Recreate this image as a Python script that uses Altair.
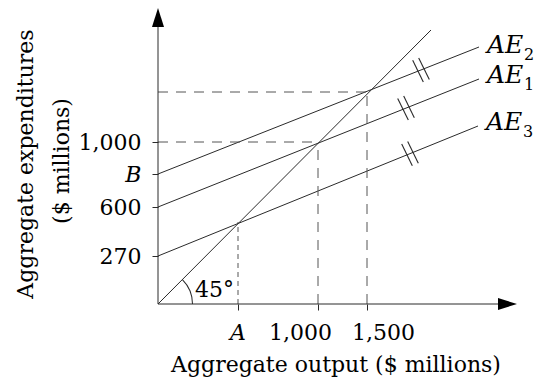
import math
import altair as alt
import pandas as pd

FONT = "DejaVu Serif"
INK = "#2a2a2a"
DASH = "#555555"

# ---- axis ticks (positions as drawn in the diagram, text as printed) ----
x_tick_pos = [80, 160, 209]
x_tick_labels = ["A", "1,000", "1,500"]
y_tick_pos = [48, 97, 130, 162]
y_tick_labels = ["270", "600", "B", "1,000"]

# ---- straight lines: 45-degree line and the three AE lines ----
line_names = ["45°", "AE2", "AE1", "AE3"]
line_x0 = [0, 0, 0, 0]
line_y0 = [0, 130, 97, 48]
line_x1 = [273, 321, 321, 320]
line_y1 = [274, 257, 225, 178]

# ---- equilibrium guide lines (dashed) ----
guide_x = [80, 160, 209]
guide_y = [82, 162, 212]
guide_horizontal = [False, True, True]

# ---- parallel hash marks on the AE lines ----
hash_lines = ["AE2", "AE1", "AE3"]
hash_x = [263, 248, 252]

# ---- AE labels ----
ae_lines = ["AE2", "AE1", "AE3"]
ae_sub = ["2", "1", "3"]

# ---------------------------------------------------------------------
X_DOM = [0, 360]
Y_DOM = [0, 300]

lines_df = pd.DataFrame({"name": line_names, "x": line_x0, "y": line_y0,
                         "x2": line_x1, "y2": line_y1})

solid_g, fine_g = [], []
for gx, gy, gh in zip(guide_x, guide_y, guide_horizontal):
    tgt = solid_g if gh else fine_g
    tgt.append({"x": gx, "y": 0, "x2": gx, "y2": gy})
    if gh:
        tgt.append({"x": 0, "y": gy, "x2": gx, "y2": gy})
guides_df = pd.DataFrame(solid_g)
fine_df = pd.DataFrame(fine_g)

hash_rows = []
for nm, hx in zip(hash_lines, hash_x):
    i = line_names.index(nm)
    m = (line_y1[i] - line_y0[i]) / (line_x1[i] - line_x0[i])
    cy = line_y0[i] + m * (hx - line_x0[i])
    for s in (-1, 1):
        cx_, cy_ = hx + 3 * s, cy + 3 * s * m
        hash_rows.append({"x": cx_ - 5.3, "y": cy_ + 10.8,
                          "x2": cx_ + 5.3, "y2": cy_ - 10.8})
hash_df = pd.DataFrame(hash_rows)

axes_df = pd.DataFrame({"x": [0, 0], "y": [0, 0], "x2": [0, 350], "y2": [290, 0]})


def y_label_expr():
    expr = "''"
    for p, l in reversed(list(zip(y_tick_pos, y_tick_labels))):
        expr = f"datum.value == {p} ? '{l}' : ({expr})"
    return expr


xs = alt.Scale(domain=X_DOM, nice=False, zero=False)
ys = alt.Scale(domain=Y_DOM, nice=False, zero=False)

x_axis = alt.Axis(values=x_tick_pos, labels=False, ticks=True, tickSize=6,
                  tickColor=INK, tickWidth=1, domain=False, grid=False, title=None)
y_axis = alt.Axis(values=y_tick_pos, labelExpr=y_label_expr(), labelFont=FONT,
                  labelFontSize=22, labelColor="black", labelPadding=11,
                  labelBaseline="middle", labelAlign="right", labelOverlap=False,
                  labelFontStyle={"condition": {"test": "datum.value == 130", "value": "italic"},
                                  "value": "normal"},
                  tickSize=6, tickColor=INK, tickWidth=1, domain=False, grid=False, title=None)


def XE(field="x"):
    return alt.X(f"{field}:Q", scale=xs, axis=x_axis)


def YE(field="y"):
    return alt.Y(f"{field}:Q", scale=ys, axis=y_axis)


def seg(df, **kw):
    return alt.Chart(df).mark_rule(**kw).encode(
        x=XE(), y=YE(), x2="x2:Q", y2="y2:Q")


main = seg(lines_df, color=INK, strokeWidth=1)
guides = seg(guides_df, color=DASH, strokeWidth=1, strokeDash=[10, 8])
fine = seg(fine_df, color=DASH, strokeWidth=1, strokeDash=[5, 4])
hashes = seg(hash_df, color=INK, strokeWidth=1.1)
axes_lines = seg(axes_df, color=INK, strokeWidth=1)

up_df = pd.DataFrame({"x": [0], "y": [296]})
right_df = pd.DataFrame({"x": [359], "y": [0]})


def arrow(df, path):
    return alt.Chart(df).mark_point(shape=path, filled=True, size=400, color="black",
                                    opacity=1, strokeWidth=0).encode(x=XE(), y=YE())


up_arrow = arrow(up_df, "M0,0 L0.6,1.9 L-0.6,1.9 Z")
right_arrow = arrow(right_df, "M0,0 L-1.9,-0.6 L-1.9,0.6 Z")

arc_df = pd.DataFrame({"x": [0], "y": [0]})
angle_arc = alt.Chart(arc_df).mark_arc(theta=math.pi / 4, theta2=math.pi / 2,
                                       radius=35, radius2=34, color=INK).encode(
    x=XE(), y=YE())

one = pd.DataFrame({"k": [0]})
angle_text = alt.Chart(one).mark_text(text="45°", font=FONT, fontSize=22, align="left",
                                      baseline="alphabetic", color="black").encode(
    x=alt.value(37), y=alt.value(293))

# x tick labels
x_lab_layers = []
x_lab_style = {"A": ("center", 0, "italic"), "1,000": ("right", 14, "normal"),
               "1,500": ("left", -15, "normal")}
for p, l in zip(x_tick_pos, x_tick_labels):
    al, dx, st = x_lab_style[l]
    x_lab_layers.append(
        alt.Chart(pd.DataFrame({"x": [p]})).mark_text(
            text=l, font=FONT, fontSize=22, fontStyle=st, align=al, dx=dx,
            baseline="alphabetic", color="black").encode(x=XE(), y=alt.value(336)))

# AE labels
ae_layers = []
ae_dy = {"AE2": 6, "AE1": 4, "AE3": 4}
for nm, sub in zip(ae_lines, ae_sub):
    i = line_names.index(nm)
    d = pd.DataFrame({"x": [line_x1[i]], "y": [line_y1[i]]})
    ae_layers.append(alt.Chart(d).mark_text(
        text="AE", font=FONT, fontSize=25, fontStyle="italic", align="left",
        baseline="alphabetic", dx=8, dy=ae_dy[nm], color="black").encode(x=XE(), y=YE()))
    ae_layers.append(alt.Chart(d).mark_text(
        text=sub, font=FONT, fontSize=16, align="left",
        baseline="alphabetic", dx=45, dy=ae_dy[nm] + 7, color="black").encode(x=XE(), y=YE()))

# axis titles
x_title = alt.Chart(one).mark_text(text="Aggregate output ($ millions)", font=FONT,
                                   fontSize=22, align="center", baseline="alphabetic",
                                   color="black").encode(x=alt.value(178), y=alt.value(368))
y_title1 = alt.Chart(one).mark_text(text="Aggregate expenditures", font=FONT, fontSize=22,
                                    align="center", baseline="alphabetic", angle=270,
                                    color="black").encode(x=alt.value(-125), y=alt.value(160))
y_title2 = alt.Chart(one).mark_text(text="($ millions)", font=FONT, fontSize=22,
                                    align="center", baseline="alphabetic", angle=270,
                                    color="black").encode(x=alt.value(-89), y=alt.value(157))

chart = alt.layer(
    main, guides, fine, hashes, axes_lines, up_arrow, right_arrow, angle_arc, angle_text,
    *x_lab_layers, *ae_layers, x_title, y_title1, y_title2
).properties(
    width=360, height=300,
    padding={"left": 158, "top": 4, "right": 17, "bottom": 75},
    autosize=alt.AutoSizeParams(type="none"),
    background="white",
).configure_view(strokeWidth=0)

chart.save("out.html", embed_options={"renderer": "svg", "actions": False})
